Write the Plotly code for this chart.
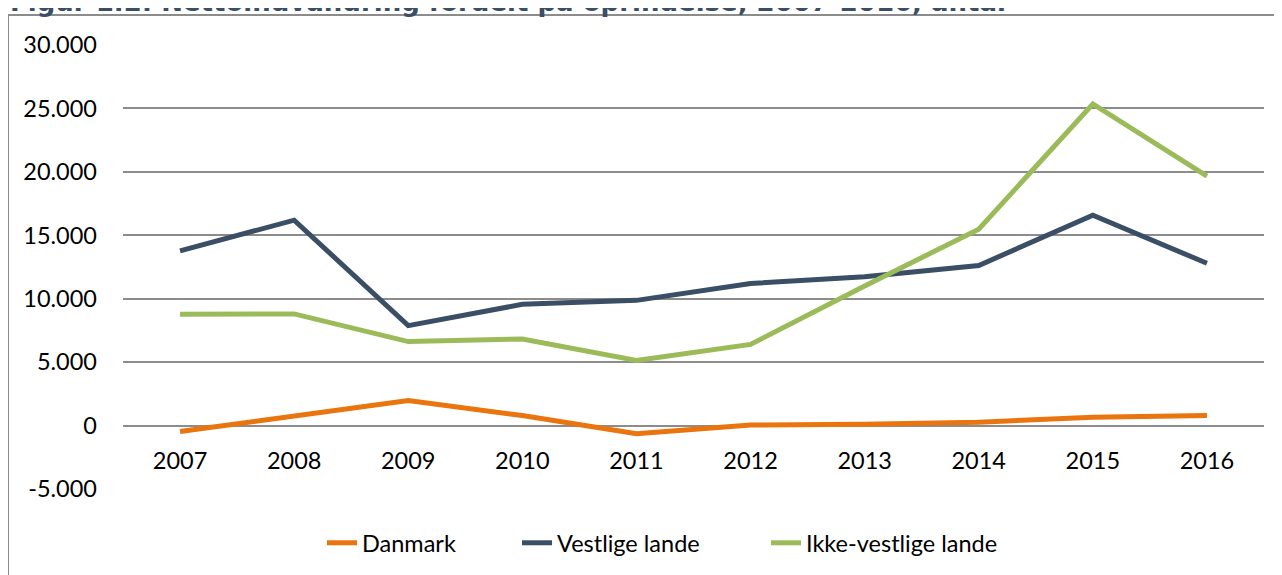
import plotly.graph_objects as go

years = ["2007", "2008", "2009", "2010", "2011", "2012", "2013", "2014", "2015", "2016"]
danmark = [-470, 710, 1970, 790, -650, 40, 100, 260, 660, 790]
vestlige = [13770, 16190, 7880, 9560, 9870, 11200, 11730, 12620, 16580, 12790]
ikke_vestlige = [8770, 8800, 6620, 6820, 5140, 6400, 11000, 15480, 25350, 19670]

series_names = ["Danmark", "Vestlige lande", "Ikke-vestlige lande"]
series_colors = ["#EA740E", "#3A4E65", "#9BBB59"]

y_ticks = [-5000, 0, 5000, 10000, 15000, 20000, 25000, 30000]
y_ticktext = [f"{v:,}".replace(",", ".") for v in y_ticks]
y_range = [-5000, 30000]

# page has an 8px body margin, so the figure is sized to the visible area
W, H = 1274, 567
ml, mr, mt, mb = 115, 18, 37, 86
pw, ph = W - ml - mr, H - mt - mb

font_family = "Lato, 'Open Sans', sans-serif"
fs = 23.5

legend_names = ["legend", "legend2", "legend3"]
legend_left_px = [314, 509, 758]  # figure px where each legend entry begins

fig = go.Figure()
for name, vals, col, lg in zip(series_names, [danmark, vestlige, ikke_vestlige], series_colors, legend_names):
    fig.add_trace(go.Scatter(x=years, y=vals, mode="lines", name=name, legend=lg,
                             line=dict(color=col, width=5)))

zero_pos = (0 - y_range[0]) / (y_range[1] - y_range[0])

legend_common = dict(orientation="h", xanchor="left", xref="paper",
                     y=-54 / ph, yanchor="middle", yref="paper", font=dict(size=fs),
                     bgcolor="rgba(0,0,0,0)", borderwidth=0)

fig.update_layout(
    width=W, height=H,
    margin=dict(l=ml, r=mr, t=mt, b=mb, autoexpand=False),
    paper_bgcolor="white", plot_bgcolor="white",
    font=dict(family=font_family, size=fs, color="#000000"),
    showlegend=True,
    xaxis=dict(type="category", range=[-0.5, 9.5], showgrid=False, showline=False,
               zeroline=False, anchor="free", position=zero_pos, ticks="",
               tickangle=0, ticklabelstandoff=19, tickfont=dict(size=fs)),
    yaxis=dict(range=y_range, tickvals=y_ticks, ticktext=y_ticktext,
               showgrid=True, gridcolor="#8C8C8C", gridwidth=2,
               zeroline=False, showline=False, ticks="",
               ticklabelstandoff=25, tickfont=dict(size=fs)),
)
for lg, lx in zip(legend_names, legend_left_px):
    fig.update_layout({lg: dict(legend_common, x=(lx - ml) / pw)})

# outer frame (partially visible)
fig.add_shape(type="rect", xref="paper", yref="paper",
              x0=(0 - ml) / pw, x1=(W + 20 - ml) / pw,
              y0=-(H + 20 - mt - ph) / ph, y1=(H - mb - 7) / ph,
              line=dict(color="#8C8C8C", width=2), fillcolor="rgba(0,0,0,0)", layer="below")

# cropped figure title
fig.add_annotation(text="<b>Figur 1.2: Nettoindvandring fordelt på oprindelse, 2007-2016, antal</b>",
                   xref="paper", yref="paper", x=(0 - ml) / pw, xanchor="left",
                   y=1, yanchor="bottom", yshift=26, showarrow=False,
                   font=dict(family="'DejaVu Sans', Verdana, sans-serif", size=26, color="#3A4E65"))

fig.write_html("out.html")
